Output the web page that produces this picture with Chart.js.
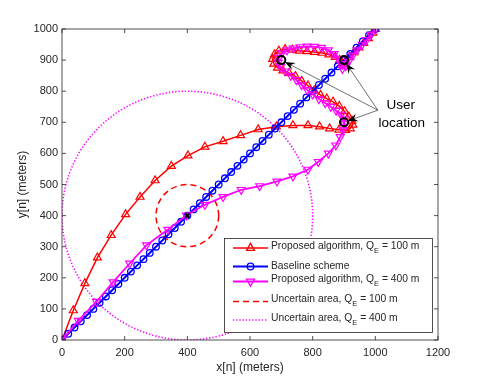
<!DOCTYPE html>
<html>
<head>
<meta charset="utf-8">
<script src="https://cdn.jsdelivr.net/npm/chart.js@4"></script>
<style>
  body { margin: 0; background: #fff; }
  #wrap { width: 485px; height: 382px; }
</style>
</head>
<body>
<div id="wrap"><canvas id="trajChart" width="485" height="382"></canvas></div>
<script>
// Trayectorias (metros)
const redX = [0, 36, 73, 113, 157, 203, 249, 297, 349, 402, 456, 514, 570, 626, 684, 737, 785, 822, 854, 884, 905, 920, 928, 925, 915, 902, 885, 865, 845, 825, 805, 785, 765, 745, 725, 705, 688, 676, 672, 678, 692, 712, 735, 758, 782, 806, 830, 852, 872, 886, 895, 905, 918, 932, 948, 963, 978, 992, 1000];
const redY = [0, 95, 182, 265, 337, 404, 460, 513, 559, 593, 621, 639, 658, 677, 686, 690, 690, 686, 680, 676, 675, 680, 692, 705, 718, 735, 752, 766, 776, 788, 802, 818, 833, 848, 858, 866, 875, 888, 903, 918, 930, 935, 933, 930, 928, 926, 923, 918, 910, 900, 890, 895, 910, 925, 940, 955, 970, 988, 1000];

const magX = [0, 52, 110, 163, 216, 270, 338, 397, 456, 514, 572, 631, 686, 737, 785, 818, 850, 874, 888, 897, 902, 900, 890, 875, 858, 840, 820, 800, 782, 765, 748, 730, 712, 698, 690, 692, 702, 718, 738, 760, 782, 805, 828, 850, 868, 882, 890, 895, 905, 915, 928, 942, 958, 972, 986, 1000];
const magY = [0, 62, 123, 186, 246, 305, 355, 401, 435, 460, 483, 495, 510, 526, 548, 573, 600, 626, 653, 675, 695, 712, 725, 738, 750, 762, 775, 790, 805, 820, 836, 850, 864, 878, 892, 908, 922, 932, 938, 942, 944, 943, 940, 932, 920, 905, 888, 872, 880, 895, 915, 932, 950, 965, 982, 1000];

const baseX = [0, 20, 40, 60, 80, 100, 120, 140, 160, 180, 200, 220, 240, 260, 280, 300, 320, 340, 360, 380, 400, 420, 440, 460, 480, 500, 520, 540, 560, 580, 600, 620, 640, 660, 680, 700, 720, 740, 760, 780, 800, 820, 840, 860, 880, 900, 920, 940, 960, 980, 1000];
const baseY = [0, 20, 40, 60, 80, 100, 120, 140, 160, 180, 200, 220, 240, 260, 280, 300, 320, 340, 360, 380, 400, 420, 440, 460, 480, 500, 520, 540, 560, 580, 600, 620, 640, 660, 680, 700, 720, 740, 760, 780, 800, 820, 840, 860, 880, 900, 920, 940, 960, 980, 1000];

const userX = [700, 900, 900];
const userY = [900, 900, 700];
const centerX = [400];
const centerY = [400];
const areaRadii = [100, 400];

// Anotación y leyenda
const noteOrigin = [1008, 739];
const noteLines = ['User', 'location'];
const legendParts = [
  ['Proposed algorithm, Q', 'E', ' = 100 m'],
  ['Baseline scheme'],
  ['Proposed algorithm, Q', 'E', ' = 400 m'],
  ['Uncertain area, Q', 'E', ' = 100 m'],
  ['Uncertain area, Q', 'E', ' = 400 m']
];

const FONT = '"Liberation Sans", Arial, Helvetica, sans-serif';
const INK = '#262626';
const RED = '#ff0000', BLUE = '#0000ff', MAG = '#ff00ff';

const pts = (xs, ys) => xs.map((x, i) => ({ x: x, y: ys[i] }));

function drawMarker(ctx, style, x, y, r, color, lw, rot) {
  ctx.save();
  ctx.strokeStyle = color;
  ctx.lineWidth = lw;
  ctx.beginPath();
  if (style === 'circle') {
    ctx.arc(x, y, r, 0, Math.PI * 2);
  } else {
    const s = rot ? -1 : 1;
    ctx.moveTo(x, y - s * r);
    ctx.lineTo(x + r * 0.866, y + s * r * 0.5);
    ctx.lineTo(x - r * 0.866, y + s * r * 0.5);
    ctx.closePath();
  }
  ctx.stroke();
  ctx.restore();
}

const areaPlugin = {
  id: 'areas',
  beforeDatasetsDraw(chart) {
    const { ctx, chartArea, scales: { x, y } } = chart;
    const cx = x.getPixelForValue(centerX[0]);
    const cy = y.getPixelForValue(centerY[0]);
    const styles = [
      { color: RED, dash: [6, 4], lw: 1.5 },
      { color: MAG, dash: [1.3, 1.9], lw: 1.6 }
    ];
    ctx.save();
    ctx.beginPath();
    ctx.rect(chartArea.left, chartArea.top, chartArea.right - chartArea.left, chartArea.bottom - chartArea.top);
    ctx.clip();
    areaRadii.forEach((r, i) => {
      const rx = x.getPixelForValue(centerX[0] + r) - cx;
      const ry = cy - y.getPixelForValue(centerY[0] + r);
      ctx.beginPath();
      ctx.setLineDash(styles[i].dash);
      ctx.strokeStyle = styles[i].color;
      ctx.lineWidth = styles[i].lw;
      ctx.ellipse(cx, cy, rx, ry, 0, 0, Math.PI * 2);
      ctx.stroke();
    });
    ctx.restore();
  },
  afterDraw(chart) {
    const { ctx, chartArea: a, scales: { x, y } } = chart;
    ctx.save();
    // marco y marcas interiores (estilo MATLAB)
    ctx.strokeStyle = INK;
    ctx.lineWidth = 0.8;
    ctx.strokeRect(a.left, a.top, a.right - a.left, a.bottom - a.top);
    ctx.beginPath();
    x.ticks.forEach(t => {
      const px = x.getPixelForValue(t.value);
      ctx.moveTo(px, a.bottom); ctx.lineTo(px, a.bottom - 4);
      ctx.moveTo(px, a.top); ctx.lineTo(px, a.top + 4);
    });
    y.ticks.forEach(t => {
      const py = y.getPixelForValue(t.value);
      ctx.moveTo(a.left, py); ctx.lineTo(a.left + 4, py);
      ctx.moveTo(a.right, py); ctx.lineTo(a.right - 4, py);
    });
    ctx.stroke();

    // flechas "User location"
    const ox = x.getPixelForValue(noteOrigin[0]);
    const oy = y.getPixelForValue(noteOrigin[1]);
    userX.forEach((ux, i) => {
      const px = x.getPixelForValue(ux), py = y.getPixelForValue(userY[i]);
      let dx = ox - px, dy = oy - py;
      const len = Math.hypot(dx, dy);
      dx /= len; dy /= len;
      const tx = px + dx * 4, ty = py + dy * 4;
      ctx.beginPath();
      ctx.strokeStyle = '#333';
      ctx.lineWidth = 0.7;
      ctx.moveTo(ox, oy);
      ctx.lineTo(tx + dx * 6, ty + dy * 6);
      ctx.stroke();
      const nx = -dy, ny = dx;
      ctx.beginPath();
      ctx.fillStyle = '#000';
      ctx.moveTo(tx, ty);
      ctx.lineTo(tx + dx * 10 + nx * 4, ty + dy * 10 + ny * 4);
      ctx.lineTo(tx + dx * 6.5, ty + dy * 6.5);
      ctx.lineTo(tx + dx * 10 - nx * 4, ty + dy * 10 - ny * 4);
      ctx.closePath();
      ctx.fill();
    });
    ctx.fillStyle = '#000';
    ctx.font = '13.5px ' + FONT;
    ctx.textAlign = 'center';
    ctx.textBaseline = 'middle';
    ctx.fillText(noteLines[0], ox + 23, oy - 5);
    ctx.fillText(noteLines[1], ox + 24, oy + 13);

    // leyenda
    const bx = 224, by = 238, bw = 208, bh = 94;
    ctx.fillStyle = '#fff';
    ctx.fillRect(bx, by, bw, bh);
    ctx.strokeStyle = INK;
    ctx.lineWidth = 0.8;
    ctx.strokeRect(bx + 0.5, by + 0.5, bw, bh);
    const rowsY = [248, 266.5, 281.5, 301.5, 320];
    const looks = [
      { color: RED, lw: 1.5, marker: 'triangle', rot: false, dash: [] },
      { color: BLUE, lw: 2, marker: 'circle', rot: false, dash: [] },
      { color: MAG, lw: 1.8, marker: 'triangle', rot: true, dash: [] },
      { color: RED, lw: 1.5, marker: null, dash: [6, 4] },
      { color: MAG, lw: 1.6, marker: null, dash: [1.3, 1.9] }
    ];
    rowsY.forEach((ry, i) => {
      const lk = looks[i];
      ctx.save();
      ctx.beginPath();
      ctx.setLineDash(lk.dash);
      ctx.strokeStyle = lk.color;
      ctx.lineWidth = lk.lw;
      ctx.moveTo(233, ry);
      ctx.lineTo(268, ry);
      ctx.stroke();
      ctx.restore();
      if (lk.marker) drawMarker(ctx, lk.marker, 250.5, ry, lk.marker === 'circle' ? 3.3 : 4.6, lk.color, 1.3, lk.rot);
      const parts = legendParts[i];
      let tx = 271;
      const ty = parts.length > 1 ? ry - 2 : ry;
      ctx.fillStyle = INK;
      ctx.textAlign = 'left';
      ctx.textBaseline = 'middle';
      ctx.font = '10.3px ' + FONT;
      ctx.fillText(parts[0], tx, ty);
      if (parts.length > 1) {
        tx += ctx.measureText(parts[0]).width;
        ctx.font = '7.5px ' + FONT;
        ctx.fillText(parts[1], tx, ty + 4.5);
        tx += ctx.measureText(parts[1]).width;
        ctx.font = '10.3px ' + FONT;
        ctx.fillText(parts[2], tx, ty);
      }
    });
    ctx.restore();
  }
};

new Chart(document.getElementById('trajChart'), {
  type: 'scatter',
  data: {
    datasets: [
      { label: 'User location', data: pts(userX, userY), pointStyle: 'circle', pointRadius: 4, pointBorderColor: '#000', pointBackgroundColor: 'rgba(0,0,0,0)', pointBorderWidth: 2, order: 0 },
      { label: 'Center', data: pts(centerX, centerY), pointStyle: 'crossRot', pointRadius: 3, pointBorderColor: '#000', pointBorderWidth: 2, order: 1 },
      { label: 'Proposed algorithm, QE = 400 m', data: pts(magX, magY), showLine: true, borderColor: MAG, borderWidth: 1.8, pointStyle: 'triangle', pointRotation: 180, pointRadius: 4.6, pointBorderColor: MAG, pointBackgroundColor: 'rgba(0,0,0,0)', pointBorderWidth: 1.2, order: 2 },
      { label: 'Baseline scheme', data: pts(baseX, baseY), showLine: true, borderColor: BLUE, borderWidth: 2, pointStyle: 'circle', pointRadius: 3.3, pointBorderColor: BLUE, pointBackgroundColor: 'rgba(0,0,0,0)', pointBorderWidth: 1.3, order: 3 },
      { label: 'Proposed algorithm, QE = 100 m', data: pts(redX, redY), showLine: true, borderColor: RED, borderWidth: 1.5, pointStyle: 'triangle', pointRadius: 4.6, pointBorderColor: RED, pointBackgroundColor: 'rgba(0,0,0,0)', pointBorderWidth: 1.2, order: 4 }
    ]
  },
  options: {
    responsive: false,
    animation: false,
    devicePixelRatio: 1,
    layout: { padding: { top: 29, right: 47, left: 0, bottom: 0 } },
    plugins: { legend: { display: false }, tooltip: { enabled: false } },
    scales: {
      x: {
        type: 'linear', min: 0, max: 1200,
        ticks: { stepSize: 200, color: INK, font: { family: FONT, size: 11 }, padding: 6, callback: v => String(v) },
        grid: { display: false, drawTicks: false },
        border: { display: false },
        title: { display: true, text: 'x[n] (meters)', color: INK, font: { family: FONT, size: 12 }, padding: { top: 0, bottom: 7 } },
        afterFit(s) { s.height = 42; }
      },
      y: {
        type: 'linear', min: 0, max: 1000,
        ticks: { stepSize: 100, color: INK, font: { family: FONT, size: 11 }, padding: 4, callback: v => String(v) },
        grid: { display: false, drawTicks: false },
        border: { display: false },
        title: { display: true, text: 'y[n] (meters)', color: INK, font: { family: FONT, size: 12 }, padding: { top: 15, bottom: 0 } },
        afterFit(s) { s.width = 62; }
      }
    }
  },
  plugins: [areaPlugin]
});
</script>
</body>
</html>
